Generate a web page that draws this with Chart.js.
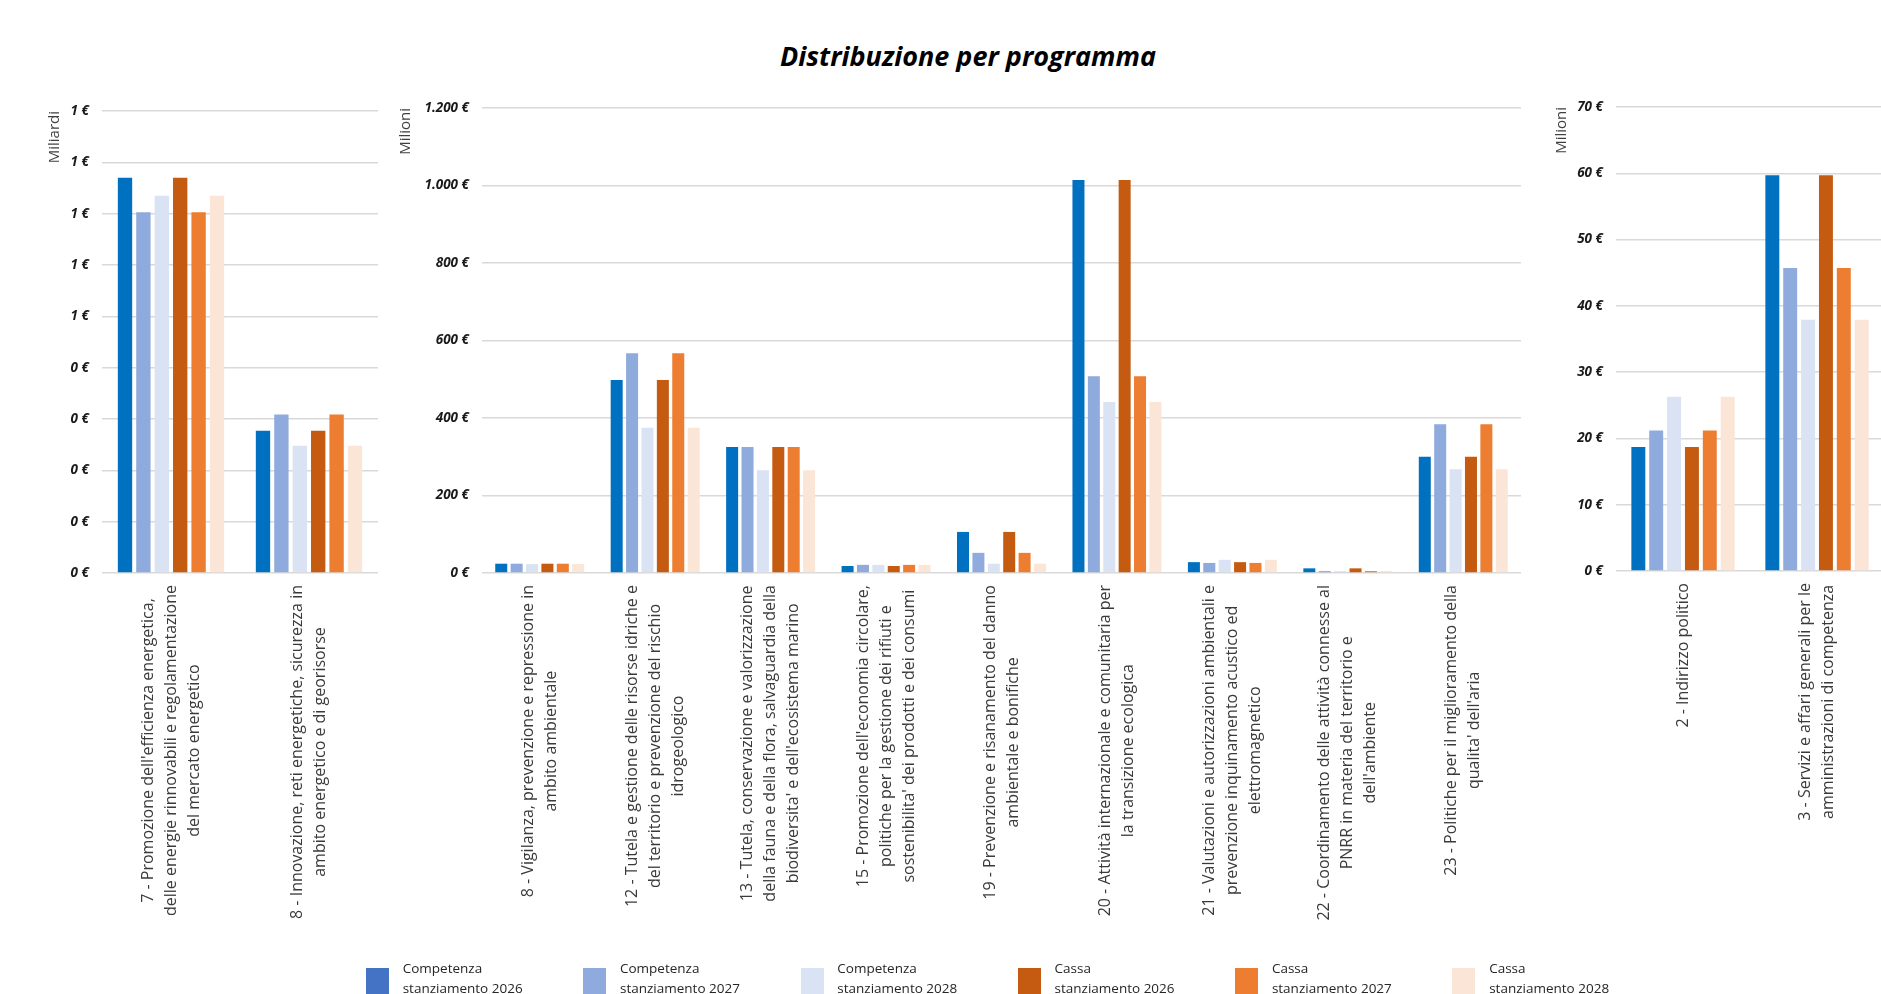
<!DOCTYPE html>
<html lang="it">
<head>
<meta charset="utf-8">
<script src="https://cdn.jsdelivr.net/npm/chart.js@4"></script>
<style>
  html, body { margin: 0; padding: 0; background: #fff; }
  body { width: 1881px; height: 994px; overflow: hidden; position: relative; font-family: "Open Sans", sans-serif; }
  canvas { position: absolute; top: 0; }
  #title { position: absolute; left: 0; width: 1936px; top: 37px; line-height: 34px; text-align: center;
           font: italic bold 27px "Open Sans", sans-serif; color: #000; }
  #legend { position: absolute; left: 366px; top: 958px; display: flex; }
  .item { width: 217.3px; display: flex; align-items: flex-start; }
  .box { width: 23px; height: 26px; margin-top: 10px; flex: none; }
  .txt { margin-left: 13.7px; font-size: 13.5px; line-height: 20px; color: #262626; white-space: nowrap; }
</style>
</head>
<body>
<div id="title">Distribuzione per programma</div>
<canvas id="left" width="392" height="994" style="left:0px"></canvas>
<canvas id="mid" width="1148" height="994" style="left:392px"></canvas>
<canvas id="right" width="360" height="994" style="left:1540px"></canvas>
<div id="legend"></div>
<script>
// series (legend), two lines each
const seriesNames = [
  ["Competenza", "stanziamento 2026"],
  ["Competenza", "stanziamento 2027"],
  ["Competenza", "stanziamento 2028"],
  ["Cassa", "stanziamento 2026"],
  ["Cassa", "stanziamento 2027"],
  ["Cassa", "stanziamento 2028"]
];

// left panel - Miliardi
const energiaLabels = [
  ["7 - Promozione dell'efficienza energetica,", "delle energie rinnovabili e regolamentazione", "del mercato energetico"],
  ["8 - Innovazione, reti energetiche, sicurezza in", "ambito energetico e di georisorse"]
];
const energiaComp2026 = [0.770, 0.277];
const energiaComp2027 = [0.703, 0.309];
const energiaComp2028 = [0.735, 0.248];
const energiaCassa2026 = [0.770, 0.277];
const energiaCassa2027 = [0.703, 0.309];
const energiaCassa2028 = [0.735, 0.248];

// middle panel - Milioni
const ambienteLabels = [
  ["8 - Vigilanza, prevenzione e repressione in", "ambito ambientale"],
  ["12 - Tutela e gestione delle risorse idriche e", "del territorio e prevenzione del rischio", "idrogeologico"],
  ["13 - Tutela, conservazione e valorizzazione", "della fauna e della flora, salvaguardia della", "biodiversita' e dell'ecosistema marino"],
  ["15 - Promozione dell'economia circolare,", "politiche per la gestione dei rifiuti e", "sostenibilita' dei prodotti e dei consumi"],
  ["19 - Prevenzione e risanamento del danno", "ambientale e bonifiche"],
  ["20 - Attività internazionale e comunitaria per", "la transizione ecologica"],
  ["21 - Valutazioni e autorizzazioni ambientali e", "prevenzione inquinamento acustico ed", "elettromagnetico"],
  ["22 - Coordinamento delle attività connesse al", "PNRR in materia del territorio e", "dell'ambiente"],
  ["23 - Politiche per il miglioramento della", "qualita' dell'aria"]
];
const ambienteComp2026 = [24, 498, 325, 18, 106, 1014, 28, 12, 300];
const ambienteComp2027 = [24, 567, 325, 21, 52, 508, 26, 5, 384];
const ambienteComp2028 = [23, 375, 265, 21, 24, 441, 34, 5, 268];
const ambienteCassa2026 = [24, 498, 325, 18, 106, 1014, 28, 12, 300];
const ambienteCassa2027 = [24, 567, 325, 21, 52, 508, 26, 5, 384];
const ambienteCassa2028 = [23, 375, 265, 21, 24, 441, 34, 5, 268];

// right panel - Milioni
const generaliLabels = [
  ["2 - Indirizzo politico"],
  ["3 - Servizi e affari generali per le", "amministrazioni di competenza"]
];
const generaliComp2026 = [18.7, 59.7];
const generaliComp2027 = [21.2, 45.7];
const generaliComp2028 = [26.3, 37.9];
const generaliCassa2026 = [18.7, 59.7];
const generaliCassa2027 = [21.2, 45.7];
const generaliCassa2028 = [26.3, 37.9];

const barColors = ["#0070C0", "#8FAADC", "#DAE3F3", "#C55A11", "#ED7D31", "#FBE5D6"];
const legendColors = ["#4472C4", "#8FAADC", "#DAE3F3", "#C55A11", "#ED7D31", "#FBE5D6"];

// category labels: rotated, lines centred on each other
const wrappedLabels = {
  id: "wrappedLabels",
  afterDraw(chart) {
    const xs = chart.scales.x, ctx = chart.ctx;
    const top = chart.chartArea.bottom + 12;
    ctx.save();
    ctx.font = '16px "Open Sans"';
    ctx.fillStyle = "#3a3a3a";
    ctx.textAlign = "center";
    ctx.textBaseline = "middle";
    chart.data.labels.forEach((lines, i) => {
      const cx = xs.getPixelForValue(i);
      const w = Math.max(...lines.map(l => ctx.measureText(l).width));
      lines.forEach((line, j) => {
        ctx.save();
        ctx.translate(cx + (j - (lines.length - 1) / 2) * 23, top + w / 2);
        ctx.rotate(-Math.PI / 2);
        ctx.fillText(line, 0, 0);
        ctx.restore();
      });
    });
    ctx.restore();
  }
};

function euro(v) {
  return String(Math.round(v)).replace(/\B(?=(\d{3})+(?!\d))/g, ".") + " €";
}

function makeChart(id, labels, series, unit, max, step, axisWidth, pad, titlePad) {
  return new Chart(id, {
    type: "bar",
    data: {
      labels: labels,
      datasets: series.map((d, i) => ({
        label: seriesNames[i].join(" "),
        data: d,
        backgroundColor: barColors[i],
        categoryPercentage: 0.8,
        barPercentage: 0.78
      }))
    },
    options: {
      responsive: false,
      animation: false,
      layout: { padding: pad },
      plugins: { legend: { display: false }, tooltip: { enabled: false } },
      scales: {
        x: {
          grid: { display: false, drawTicks: false },
          border: { display: false },
          ticks: { display: false }
        },
        y: {
          min: 0,
          max: max,
          afterFit(scale) { scale.width = axisWidth; },
          border: { display: false },
          grid: { color: "#d9d9d9", lineWidth: 1.5, drawTicks: false },
          ticks: {
            stepSize: step,
            padding: 13,
            color: "#1a1a1a",
            font: { family: "Open Sans", size: 13.5, style: "italic", weight: "bold" },
            callback: v => euro(v)
          },
          title: {
            display: true,
            text: unit,
            align: "end",
            color: "#404040",
            font: { family: "Open Sans", size: 15, lineHeight: 1.2 },
            padding: { top: titlePad, bottom: 0 }
          }
        }
      }
    },
    plugins: [wrappedLabels]
  });
}

makeChart("left", energiaLabels,
  [energiaComp2026, energiaComp2027, energiaComp2028, energiaCassa2026, energiaCassa2027, energiaCassa2028],
  "Miliardi", 0.9, 0.1, 102, { top: 111, right: 14, bottom: 421, left: 0 }, 46);

makeChart("mid", ambienteLabels,
  [ambienteComp2026, ambienteComp2027, ambienteComp2028, ambienteCassa2026, ambienteCassa2027, ambienteCassa2028],
  "Milioni", 1200, 200, 90, { top: 108, right: 19, bottom: 421, left: 0 }, 5);

makeChart("right", generaliLabels,
  [generaliComp2026, generaliComp2027, generaliComp2028, generaliCassa2026, generaliCassa2027, generaliCassa2028],
  "Milioni", 70, 10, 76, { top: 107, right: 16, bottom: 423, left: 0 }, 13);

// legend
const legend = document.getElementById("legend");
seriesNames.forEach((name, i) => {
  const item = document.createElement("div");
  item.className = "item";
  item.innerHTML = '<div class="box" style="background:' + legendColors[i] + '"></div>' +
    '<div class="txt">' + name[0] + "<br>" + name[1] + "</div>";
  legend.appendChild(item);
});
</script>
</body>
</html>
